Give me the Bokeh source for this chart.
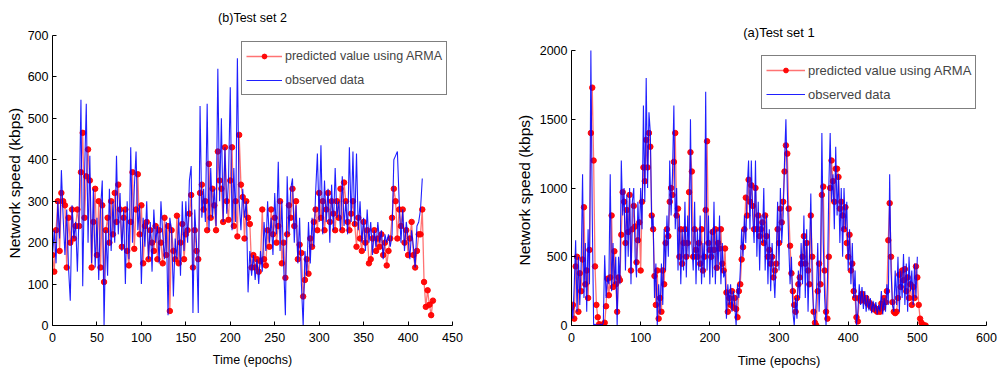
from bokeh.plotting import figure
from bokeh.layouts import row
from bokeh.models import Range1d, FixedTicker, Legend, LegendItem, Label, Title
from bokeh.embed import file_html
from bokeh.resources import INLINE

# ---------------- data (epochs sampled every 2) ----------------
STEP = 2

set2_observed = [
    170, 230, 150, 300, 210, 375, 260, 170, 280, 140, 60, 290, 210, 250, 130, 280,
    545, 95, 360, 535, 200, 410, 150, 330, 140, 260,
    110, 280, 350, 0, 230, 120, 330, 180, 300, 200,
    410, 220, 320, 180, 280, 100, 300, 160, 430, 200,
    330, 420, 230, 290, 100, 260, 190, 300, 160, 250,
    130, 280, 200, 240, 150, 300, 220, 160, 250, 25,
    260, 230, 70, 210, 160, 260, 120, 300, 180, 300,
    200, 350, 385, 30, 280, 200, 30, 530, 260, 330,
    250, 535, 230, 380, 260, 330, 240, 620, 300, 500,
    250, 430, 270, 350, 575, 230, 380, 250, 645, 300,
    230, 330, 260, 300, 80, 180, 120, 170, 110, 160,
    100, 180, 130, 250, 180, 300, 200, 260, 170, 320,
    220, 395, 180, 300, 150, 25, 360, 220, 330, 355,
    200, 290, 150, 260, 100, 0, 180, 120, 250, 150,
    260, 190, 320, 415, 250, 435, 220, 350, 250, 330,
    200, 340, 230, 380, 260, 300, 230, 360, 240, 300,
    220, 430, 250, 420, 240, 415, 230, 300, 200, 260,
    180, 280, 200, 250, 170, 230, 190, 250, 200, 230,
    160, 220, 200, 220, 190, 220, 400, 410, 420, 300,
    200, 280, 180, 250, 210, 160, 230, 190, 140, 240,
    250, 280, 355,
]

set2_predicted = [
    170, 130, 230, 300, 180, 320, 300, 290, 140, 260, 200, 280, 210, 240, 280, 240,
    370, 465, 260, 360, 425, 350, 140, 250, 330, 170,
    300, 140, 290, 105, 230, 260, 200, 300, 220, 320,
    250, 340, 280, 190, 260, 280, 180, 145, 250, 370,
    185, 280, 365, 220, 290, 150, 240, 250, 160, 230,
    200, 180, 240, 160, 230, 200, 150, 260, 170, 240,
    35, 230, 180, 160, 265, 150, 200, 245, 160, 220,
    230, 270, 315, 140, 230, 180, 160, 320, 340, 280,
    300, 230, 390, 260, 330, 290, 230, 420, 350, 330,
    250, 430, 300, 255, 350, 430, 240, 300, 215, 460,
    340, 310, 210, 300, 260, 245, 140, 170, 140, 160,
    130, 155, 280, 160, 145, 230, 190, 280, 220, 260,
    200, 240, 300, 150, 200, 115, 220, 290, 260, 330,
    240, 300, 160, 195, 175, 70, 110, 160, 125, 210,
    190, 250, 280, 230, 320, 260, 300, 230, 280, 320,
    250, 300, 270, 230, 300, 260, 330, 230, 345, 300,
    250, 230, 270, 300, 245, 190, 260, 210, 180, 250,
    200, 230, 150, 160, 210, 230, 180, 210, 190, 220,
    170, 200, 145, 180, 210, 260, 330, 300, 210, 280,
    240, 280, 200, 230, 170, 210, 250, 170, 140, 180,
    220, 220, 280, 105, 45, 85, 50, 25, 60,
]

set1_observed = [
    150, 50, 300, 620, 100, 500, 150, 450, 1100, 200,
    600, 100, 700, 300, 2000, 800, 0, 10, 0, 5,
    0, 10, 0, 20, 510, 200, 350, 300, 1100, 250,
    600, 300, 500, 0, 500, 300, 1200, 800, 1000, 400,
    950, 500, 1000, 300, 900, 1000, 500, 350, 900, 600,
    1000, 700, 1600, 900, 1800, 1000, 1550, 1400, 700, 800,
    200, 450, 0, 300, 80, 450, 150, 700, 400, 800,
    500, 1200, 800, 1100, 1600, 700, 1000, 400, 800, 300,
    700, 400, 900, 350, 800, 500, 1500, 600, 400, 900,
    300, 700, 400, 800, 300, 600, 350, 1700, 400, 800,
    300, 700, 350, 900, 300, 700, 400, 800, 300, 600,
    350, 400, 50, 300, 150, 300, 100, 250, 150, 0,
    300, 200, 400, 700, 500, 800, 600, 1000, 1200, 700,
    1200, 800, 600, 1200, 500, 900, 400, 800, 600, 1000,
    400, 800, 300, 700, 250, 600, 400, 200, 500, 900,
    400, 1000, 600, 800, 1200, 1500, 1000, 600, 300, 500,
    100, 0, 200, 50, 400, 200, 600, 300, 800, 200,
    700, 100, 500, 960, 300, 100, 0, 200, 600, 100,
    400, 1400, 600, 200, 0, 300, 1000, 1400, 900, 1100,
    700, 1300, 800, 1100, 600, 1000, 500, 1000, 700, 900,
    400, 700, 300, 600, 200, 400, 0, 100, 300, 150,
    280, 120, 250, 100, 220, 110, 200, 90, 180, 100,
    170, 80, 150, 100, 250, 80, 200, 100, 300, 150,
    1100, 400, 150, 100, 400, 150, 500, 100, 400, 200,
    520, 150, 450, 100, 500, 250, 400, 150, 450, 200,
    500,
]

set1_predicted = [
    130, 150, 50, 430, 500, 100, 380, 250, 480, 860,
    300, 400, 200, 550, 1400, 1730, 1200, 430, 150, 60,
    10, 0, 0, 10, 20, 140, 340, 220, 350, 800,
    280, 540, 300, 100, 350, 330, 660, 970, 900, 600,
    840, 680, 950, 400, 700, 870, 720, 460, 620, 750,
    400, 900, 1150, 1050, 1350, 1150, 1400, 1300, 800, 700,
    360, 150, 400, 50, 200, 100, 400, 300, 600, 700,
    650, 900, 1000, 950, 1190, 1400, 800, 850, 500, 700,
    450, 600, 700, 500, 600, 970, 1260, 1120, 500, 700,
    550, 500, 600, 450, 700, 400, 500, 840, 1340, 600,
    550, 500, 680, 550, 700, 420, 600, 560, 700, 450,
    400, 560, 240, 100, 200, 150, 250, 130, 200, 120,
    60, 250, 300, 480, 570, 700, 930, 800, 1060, 900,
    1020, 870, 700, 1000, 700, 800, 650, 700, 750, 600,
    800, 650, 500, 550, 450, 500, 350, 400, 450, 700,
    600, 850, 750, 900, 1120, 1310, 1250, 850, 580, 380,
    250, 150, 100, 200, 300, 350, 450, 500, 650, 450,
    600, 400, 300, 800, 500, 100, 20, 0, 250, 450,
    300, 950, 1010, 400, 100, 50, 500, 1000, 1200, 1050,
    900, 1140, 1140, 1080, 850, 900, 800, 700, 860, 600,
    500, 660, 400, 450, 250, 200, 60, 30, 200, 180,
    230, 200, 180, 200, 160, 170, 140, 150, 120, 130,
    110, 100, 120, 100, 160, 130, 200, 170, 250, 620,
    890, 500, 170, 100, 90, 100, 200, 370, 280, 400,
    330, 410, 250, 350, 200, 300, 150, 280, 200, 430,
    350, 150, 50, 20, 5, 0, 0,
]

set2_xticks = [0, 50, 100, 150, 200, 250, 300, 350, 400, 450]
set2_yticks = [0, 100, 200, 300, 400, 500, 600, 700]
set1_xticks = [0, 100, 200, 300, 400, 500, 600]
set1_yticks = [0, 500, 1000, 1500, 2000]

title2 = "(b)Test set 2"
title1 = "(a)Test set 1"
xlabel = "Time (epochs)"
ylabel = "Network speed (kbps)"
label_pred = "predicted value using ARMA"
label_obs = "observed data"

FONT = "Liberation Sans"
HEIGHT = 370
FRAME_TOP = 8        # both frames share top and bottom (row aligns them)
FRAME_BOTTOM = 325


def make_panel(obs, pred, xmax, ymax, axis_top_px, title, title_px, title_fs,
               xticks, yticks, width, bl, br, fs, tfs, yfs, ylab_offset,
               ylab_standoff, glyph_w, legend_loc):
    # the frame runs from FRAME_TOP to FRAME_BOTTOM; the y axis itself stops at
    # ymax, drawn at pixel row axis_top_px
    per_px = ymax / (FRAME_BOTTOM - axis_top_px)
    view_max = per_px * (FRAME_BOTTOM - FRAME_TOP)
    p = figure(width=width, height=HEIGHT, output_backend="svg",
               toolbar_location=None, title=None,
               x_range=Range1d(0, xmax), y_range=Range1d(0, view_max),
               min_border_left=bl, min_border_right=br,
               min_border_top=FRAME_TOP, min_border_bottom=HEIGHT - FRAME_BOTTOM)
    p.background_fill_color = "white"
    p.border_fill_color = "white"
    p.outline_line_color = None
    p.grid.visible = False

    xo = [i * STEP for i in range(len(obs))]
    xp = [i * STEP for i in range(len(pred))]

    rline = p.line(xp, pred, line_color="#ff0000", line_alpha=0.55, line_width=1.3)
    rdots = p.scatter(xp, pred, size=5.5, fill_color="#ff0000", line_color="#ff0000",
                      line_alpha=0.9, fill_alpha=0.95)
    bline = p.line(xo, obs, line_color="#0000ff", line_alpha=0.88, line_width=1.1)

    for ax in (p.xaxis, p.yaxis):
        ax.axis_line_color = "black"
        ax.axis_line_width = 1
        ax.major_tick_in = 4
        ax.major_tick_out = 0
        ax.minor_tick_line_color = None
        ax.major_tick_line_color = "black"
        ax.major_label_text_font = FONT
        ax.major_label_text_font_size = tfs
        ax.major_label_text_color = "black"
        ax.axis_label_text_font_style = "normal"
        ax.axis_label_text_color = "black"

    p.xaxis.ticker = FixedTicker(ticks=xticks)
    p.yaxis.ticker = FixedTicker(ticks=yticks)
    p.yaxis.bounds = (0, ymax)
    p.xaxis.axis_label = xlabel
    p.xaxis.axis_label_text_font = FONT
    p.xaxis.axis_label_text_font_size = fs
    p.xaxis.axis_label_standoff = 8
    p.xaxis.major_label_standoff = 7
    p.yaxis.major_label_standoff = 4

    # y axis title, centred on the drawn (bounded) axis rather than the frame
    p.add_layout(Title(text=ylabel, align="left", offset=ylab_offset,
                       standoff=ylab_standoff, text_font=FONT,
                       text_font_size=yfs, text_font_style="normal",
                       text_color="black"), "left")

    # panel title, centred above the plotted area
    title_y = per_px * (FRAME_BOTTOM - title_px)
    p.add_layout(Label(x=xmax / 2, y=title_y, text=title, text_align="center",
                       text_baseline="middle", text_font=FONT,
                       text_font_size=title_fs, text_color="black"))

    legend = Legend(items=[LegendItem(label=label_pred, renderers=[rline, rdots]),
                           LegendItem(label=label_obs, renderers=[bline])],
                    location=legend_loc)
    legend.border_line_color = "black"
    legend.border_line_width = 1.5
    legend.background_fill_color = "white"
    legend.background_fill_alpha = 1
    legend.label_text_font = FONT
    legend.label_text_font_size = fs
    legend.glyph_width = glyph_w
    legend.glyph_height = 12
    legend.label_height = 20
    legend.spacing = 4
    legend.padding = 4
    legend.margin = 0
    legend.label_standoff = 3
    p.add_layout(legend)
    return p


# left panel: (b) Test set 2
left = make_panel(set2_observed, set2_predicted, 450, 700, 35, title2, 17.5, "12.5px",
                  set2_xticks, set2_yticks, 502, 52, 50,
                  "12.5px", "12.5px", "15.5px", 67, 3, 36, (189, 230))

# right panel: (a) Test set 1
right = make_panel(set1_observed, set1_predicted, 600, 2000, 50, title1, 32, "13px",
                   set1_xticks, set1_yticks, 496, 69, 12,
                   "13px", "12.5px", "15.5px", 60, 8, 39, (190, 216))

layout = row(left, right)
open("out.html", "w").write(file_html(layout, INLINE))
